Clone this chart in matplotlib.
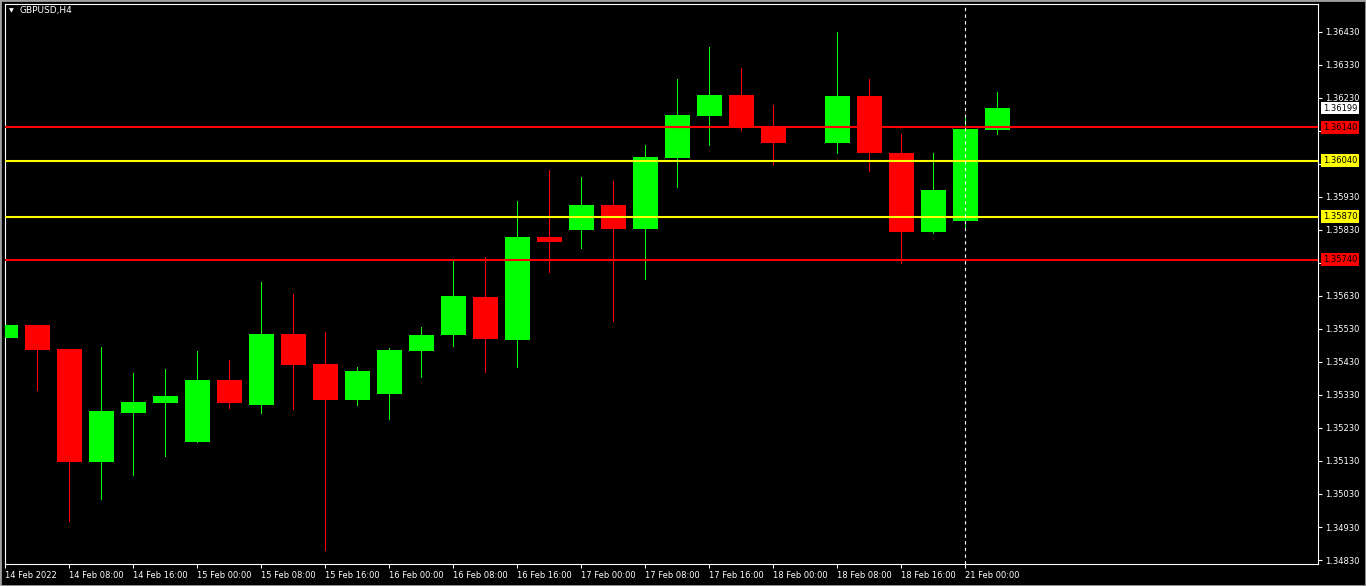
import numpy as np
import matplotlib
matplotlib.use("Agg")
import matplotlib.pyplot as plt
import matplotlib.transforms as mtransforms
from matplotlib.patches import Rectangle

# bar slots (4h bars from 14 Feb 2022 00:00), slot 25 has no bar
slots = [0, 1, 2, 3, 4, 5, 6, 7, 8, 9, 10, 11, 12, 13, 14, 15, 16, 17, 18, 19,
         20, 21, 22, 23, 24, 26, 27, 28, 29, 30, 31]
opens = [1.35502, 1.35542, 1.35469, 1.35127, 1.35275, 1.35306, 1.35187, 1.35375,
         1.35299, 1.35514, 1.35424, 1.35315, 1.35333, 1.35463, 1.35512, 1.35627,
         1.35496, 1.35808, 1.35829, 1.35905, 1.35832, 1.36048, 1.36175, 1.36238,
         1.36141, 1.36093, 1.36235, 1.36063, 1.35823, 1.35857, 1.36132]
highs = [1.35720, 1.35542, 1.35469, 1.35475, 1.35396, 1.35409, 1.35463, 1.35436,
         1.35672, 1.35636, 1.35521, 1.35415, 1.35472, 1.35536, 1.35739, 1.35748,
         1.35917, 1.36011, 1.35990, 1.35978, 1.36087, 1.36287, 1.36384, 1.36320,
         1.36208, 1.36429, 1.36287, 1.36120, 1.36063, 1.36172, 1.36247]
lows = [1.35484, 1.35345, 1.34949, 1.35015, 1.35087, 1.35145, 1.35187, 1.35290,
        1.35275, 1.35287, 1.34860, 1.35299, 1.35257, 1.35384, 1.35478, 1.35399,
        1.35415, 1.35702, 1.35775, 1.35554, 1.35681, 1.35960, 1.36087, 1.36132,
        1.36029, 1.36063, 1.36008, 1.35730, 1.35820, 1.35836, 1.36120]
closes = [1.35542, 1.35466, 1.35127, 1.35281, 1.35309, 1.35327, 1.35375, 1.35306,
          1.35514, 1.35421, 1.35315, 1.35402, 1.35466, 1.35512, 1.35630, 1.35499,
          1.35808, 1.35793, 1.35905, 1.35832, 1.36051, 1.36178, 1.36238, 1.36138,
          1.36093, 1.36235, 1.36063, 1.35823, 1.35951, 1.36135, 1.36199]

# horizontal levels
levels = [1.36140, 1.36040, 1.35870, 1.35740]
level_colors = ['#FF0000', '#FFFF00', '#FFFF00', '#FF0000']
last_price = 1.36199

price_ticks = [1.34830, 1.34930, 1.35030, 1.35130, 1.35230, 1.35330, 1.35430,
               1.35530, 1.35630, 1.35730, 1.35830, 1.35930, 1.36030, 1.36130,
               1.36230, 1.36330, 1.36430]
time_slots = [0, 2, 4, 6, 8, 10, 12, 14, 16, 18, 20, 22, 24, 26, 28, 30]
time_labels = ['14 Feb 2022', '14 Feb 08:00', '14 Feb 16:00', '15 Feb 00:00',
               '15 Feb 08:00', '15 Feb 16:00', '16 Feb 00:00', '16 Feb 08:00',
               '16 Feb 16:00', '17 Feb 00:00', '17 Feb 08:00', '17 Feb 16:00',
               '18 Feb 00:00', '18 Feb 08:00', '18 Feb 16:00', '21 Feb 00:00']
separator_slot = 30

W, H = 1366, 586
fig = plt.figure(figsize=(W / 100, H / 100), dpi=100, facecolor='black')
ax = fig.add_axes([5 / W, 22 / H, 1313 / W, 560 / H])
ax.set_facecolor('black')

x = np.array(slots, dtype=float)
o = np.array(opens)
h = np.array(highs)
l = np.array(lows)
c = np.array(closes)
up = c >= o
cols = np.where(up, '#00FF00', '#FF0000')

# wicks, crisp 1px
ax.vlines(x, l, h, colors=cols, linewidth=0.7, antialiased=False, zorder=2)
# bodies
bottom = np.minimum(o, c)
height = np.maximum(np.abs(c - o), 0.00003)
ax.bar(x, height, bottom=bottom, width=0.78, color=cols, linewidth=0,
       antialiased=False, zorder=3)

# levels
for lv, col in zip(levels, level_colors):
    ax.axhline(lv, color=col, linewidth=1.5, zorder=4)

# period separator
ax.axvline(separator_slot, color='white', linewidth=0.8, linestyle=(0, (3, 3)), zorder=5)

ax.set_xlim(-0.5 / 32, 41.02)
ax.set_ylim(1.34818, 1.36514)

# right price axis
ax.yaxis.tick_right()
ax.set_yticks(price_ticks)
ax.set_yticklabels(['%.5f' % t for t in price_ticks])
ax.tick_params(axis='y', colors='white', labelcolor='white', length=3, width=0.8,
               labelsize=6, pad=2)

# bottom time axis
ax.set_xticks(time_slots)
ax.set_xticklabels(time_labels, ha='left')
ax.tick_params(axis='x', colors='white', labelcolor='white', length=3, width=0.8,
               labelsize=6, pad=2)

for sp in ax.spines.values():
    sp.set_color('white')
    sp.set_linewidth(0.8)

# price boxes on the right axis (they sit over the nearest tick labels, as in MT4)
trans = mtransforms.blended_transform_factory(ax.transAxes, ax.transData)
for lv, col in zip(levels, level_colors):
    ax.annotate('%.5f' % lv, xy=(1, lv), xycoords=trans, xytext=(5, 0),
                textcoords='offset pixels', ha='left', va='center', fontsize=6,
                color='black', annotation_clip=False, zorder=6,
                bbox=dict(boxstyle='square,pad=0.2', fc=col, ec='none'))
ax.annotate('%.5f' % last_price, xy=(1, last_price), xycoords=trans, xytext=(5, 0),
            textcoords='offset pixels', ha='left', va='center', fontsize=6,
            color='black', annotation_clip=False, zorder=6,
            bbox=dict(boxstyle='square,pad=0.2', fc='white', ec='none'))

# title
fig.text(9 / W, 1 - 11 / H, '\u25bc', color='white', fontsize=4.5, ha='left', va='center')
fig.text(20 / W, 1 - 11 / H, 'GBPUSD,H4', color='white', fontsize=6.5, ha='left', va='center')

# window frame
fig.patches.append(Rectangle((0, 0), 1, 1, transform=fig.transFigure, fill=False,
                             edgecolor='#a0a0a0', linewidth=2))

fig.savefig('out.png', dpi=100, facecolor='black')
